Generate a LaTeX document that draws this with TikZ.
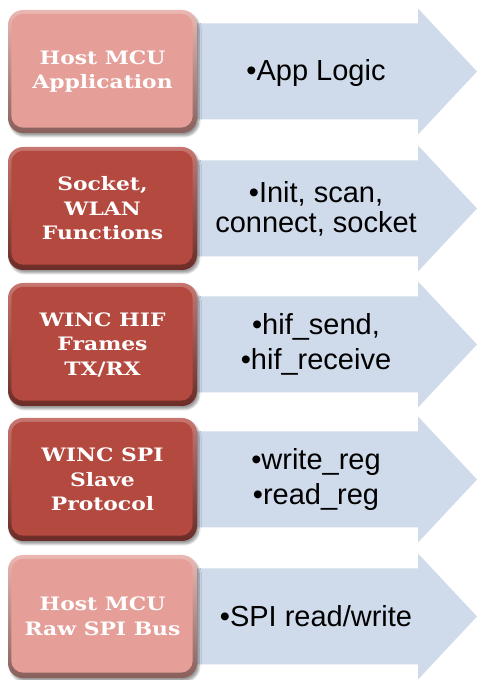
\documentclass[tikz,border=0pt]{standalone}
\usepackage{fontspec}
\setmainfont{Liberation Sans}
\newfontfamily\boxfont{DejaVu Serif}[FakeStretch=1.18]
\usetikzlibrary{shadows.blur}
\definecolor{arrowc}{RGB}{207,218,234}
\definecolor{lightc}{RGB}{229,159,152}
\definecolor{darkc}{RGB}{180,73,64}
\tikzset{
  x=1pt,y=1pt,
  layerbox/.style={rectangle, rounded corners=15pt, minimum width=189pt, minimum height=123pt,
    inner sep=0pt, top color=#1!75!white, bottom color=#1!60!black,
    blur shadow={shadow xshift=2pt, shadow yshift=-3pt, shadow blur steps=6, shadow opacity=40}},
  bevel/.style={fill=#1, rounded corners=12pt},
  boxtext/.style={text=white, font=\boxfont\bfseries\fontsize{18.5}{24.5}\selectfont, align=center},
  arrowtext/.style={text=black, font=\fontsize{29}{30}\selectfont, align=center},
  arrowbody/.style={fill=arrowc},
}
\newcommand{\layerrow}[6]{%
  % #1 name, #2 center y, #3 colour, #4 box text, #5 arrow text, #6 arrow text y offset
  \fill[arrowbody] (185,#2+48) -- (418,#2+48) -- (418,#2+63) -- (477,#2) -- (418,#2-63) -- (418,#2-48) -- (185,#2-48) -- cycle;
  \node[layerbox=#3] (b#1) at (102.5,#2) {};
  \fill[bevel=#3] ([shift={(3.5pt,-4pt)}]b#1.north west) rectangle ([shift={(-4.5pt,5.5pt)}]b#1.south east);
  \node[boxtext] (l#1) at (b#1.center) {#4};
  \node[arrowtext] (t#1) at (316,#2+#6) {#5};
}
\begin{document}
\begin{tikzpicture}
\useasboundingbox (0,0) rectangle (477,680);
\layerrow{1}{608.5}{lightc}{Host MCU\\Application}{•App Logic}{-1.5}
\layerrow{2}{471.5}{darkc}{Socket,\\WLAN\\Functions}{•Init, scan,\\connect, socket}{0}
\layerrow{3}{335.5}{darkc}{WINC HIF\\Frames\\TX/RX}{•hif\_send,\\[5pt]•hif\_receive}{0}
\layerrow{4}{200.5}{darkc}{WINC SPI\\Slave\\Protocol}{•write\_reg\\[5pt]•read\_reg}{0}
\layerrow{5}{63.5}{lightc}{Host MCU\\Raw SPI Bus}{•SPI read/write}{0}
\end{tikzpicture}
\end{document}
